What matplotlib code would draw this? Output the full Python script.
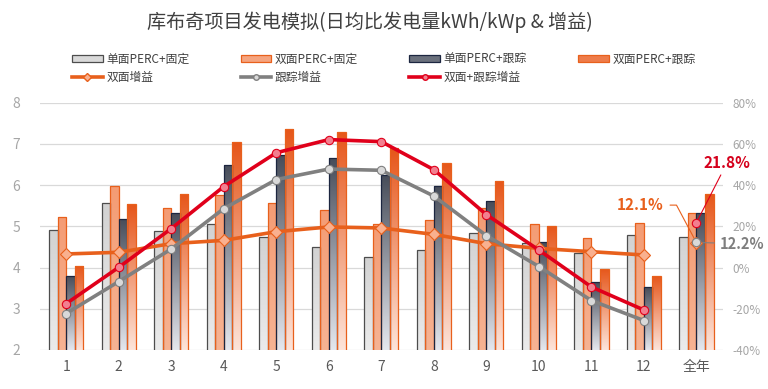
import numpy as np
import matplotlib
matplotlib.use('Agg')
import matplotlib.pyplot as plt
from matplotlib.colors import LinearSegmentedColormap
from matplotlib.patches import Patch
from matplotlib.lines import Line2D

plt.rcParams['font.family'] = ['Noto Sans CJK SC', 'DejaVu Sans']

months = ['1', '2', '3', '4', '5', '6', '7', '8', '9', '10', '11', '12', '全年']
mono_fixed = [4.90, 5.56, 4.88, 5.05, 4.74, 4.49, 4.25, 4.42, 4.85, 4.60, 4.35, 4.78, 4.74]
bi_fixed = [5.23, 5.97, 5.44, 5.75, 5.56, 5.39, 5.05, 5.15, 5.44, 5.05, 4.71, 5.07, 5.32]
mono_track = [3.80, 5.17, 5.32, 6.50, 6.72, 6.65, 6.24, 5.97, 5.61, 4.61, 3.64, 3.52, 5.32]
bi_track = [4.04, 5.54, 5.78, 7.04, 7.36, 7.29, 6.89, 6.54, 6.10, 5.01, 3.97, 3.80, 5.78]
# 增益 (%)
bi_gain = [6.6, 7.4, 11.6, 13.2, 17.4, 19.7, 19.2, 16.1, 11.6, 9.3, 7.7, 6.1, 12.1]
track_gain = [-22.3, -6.8, 9.0, 28.6, 42.7, 47.8, 47.2, 34.7, 15.5, 0.5, -16.0, -25.7, 12.2]
both_gain = [-17.5, 0.1, 18.9, 39.3, 55.7, 62.1, 61.1, 47.5, 25.7, 8.5, -9.4, -20.6, 21.8]

ORANGE = '#e8601c'
GREY = '#808080'
RED = '#e0001b'

fig = plt.figure(figsize=(7.68, 3.89), dpi=100)
ax = fig.add_axes([0.052, 0.1003, 0.889, 0.6357])
ax2 = ax.twinx()

x = np.arange(len(months))
w = 0.163
ymin, ymax = 2, 8


def grad_bars(xs, hs, top, bot, edge):
    cmap = LinearSegmentedColormap.from_list('g', [bot, top])
    grad = np.linspace(0, 1, 128).reshape(-1, 1)
    bars = ax.bar(xs, hs, w, color='none', edgecolor=edge, linewidth=0.9, zorder=3)
    for b in bars:
        x0 = b.get_x()
        h = b.get_height()
        im = ax.imshow(grad, cmap=cmap, origin='lower', aspect='auto',
                       extent=[x0, x0 + w, ymin, h], zorder=2)
        im.set_clip_path(b)
    return bars


grad_bars(x - 1.5 * w, mono_fixed, '#d2d2d2', '#ebebeb', '#4d4d4d')
grad_bars(x - 0.5 * w, bi_fixed, '#f49c74', '#f7b393', ORANGE)
grad_bars(x + 0.5 * w, mono_track, '#474d5a', '#e4e7ee', '#1c2640')
grad_bars(x + 1.5 * w, bi_track, '#e6561a', '#fde4da', ORANGE)

ax.set_xlim(-0.5, len(months) - 0.5)
ax.set_ylim(ymin, ymax)
ax.set_yticks(range(2, 9))
ax.yaxis.grid(True, color='#d9d9d9', linewidth=0.9)
ax.set_axisbelow(True)
ax.set_xticks(x)
ax.set_xticklabels(months)
ax.tick_params(axis='x', length=0, pad=7, labelsize=10, labelcolor='#595959')
ax.tick_params(axis='y', length=0, pad=14, labelsize=10, labelcolor='#a6a6a6')
for s in ax.spines.values():
    s.set_visible(False)

# 增益曲线 (月份连线, 全年单独一点)
m = x[:-1]
ax2.plot(m, bi_gain[:-1], color=ORANGE, lw=2.6, marker='D', ms=6.5,
         mfc='#f9b08f', mec=ORANGE, mew=0.8, zorder=4)
ax2.plot(m, track_gain[:-1], color=GREY, lw=2.6, marker='o', ms=6,
         mfc='#d9d9d9', mec=GREY, mew=0.8, zorder=5)
ax2.plot(m, both_gain[:-1], color=RED, lw=2.6, marker='o', ms=6,
         mfc='#f27f8f', mec=RED, mew=0.8, zorder=6)
ax2.plot(x[-1], bi_gain[-1], marker='D', ms=6.5, mfc='#f9b08f', mec=ORANGE, mew=0.8, zorder=4)
ax2.plot(x[-1], track_gain[-1], marker='o', ms=6, mfc='#d9d9d9', mec=GREY, mew=0.8, zorder=5)
ax2.plot(x[-1], both_gain[-1], marker='o', ms=6, mfc='#f27f8f', mec=RED, mew=0.8, zorder=6)

ax2.set_ylim(-40, 80)
ax2.set_yticks(range(-40, 81, 20))
ax2.set_yticklabels(['%d%%' % v for v in range(-40, 81, 20)])
ax2.tick_params(axis='y', length=0, pad=7, labelsize=8.5, labelcolor='#a6a6a6')
for s in ax2.spines.values():
    s.set_visible(False)

# 全年数据标签
ax2.annotate('%.1f%%' % both_gain[-1], xy=(x[-1], both_gain[-1]), xytext=(22, 43),
             textcoords='offset points', ha='center', va='center',
             fontsize=11, fontweight='bold', color='#d5001c',
             arrowprops=dict(arrowstyle='-', color=RED, lw=0.8, shrinkA=1, shrinkB=3))
ax2.annotate('%.1f%%' % bi_gain[-1], xy=(x[-1], bi_gain[-1]), xytext=(-24, 27),
             textcoords='offset points', ha='right', va='center',
             fontsize=11, fontweight='bold', color=ORANGE,
             arrowprops=dict(arrowstyle='-', color=ORANGE, lw=0.8, shrinkA=3, shrinkB=3,
                             connectionstyle='angle,angleA=0,angleB=-62,rad=0'))
ax2.annotate('%.1f%%' % track_gain[-1], xy=(x[-1], track_gain[-1]), xytext=(17, -1),
             textcoords='offset points', ha='left', va='center',
             fontsize=10.5, fontweight='bold', color='#7f7f7f',
             arrowprops=dict(arrowstyle='-', color=GREY, lw=0.8, shrinkA=2, shrinkB=3))

fig.text(0.482, 0.942, '库布奇项目发电模拟(日均比发电量kWh/kWp & 增益)',
         ha='center', va='center', fontsize=13.8, color='#404040')

handles = [
    Patch(facecolor='#d9d9d9', edgecolor='#4d4d4d', linewidth=0.9),
    Line2D([], [], color=ORANGE, lw=2.6, marker='D', ms=4, mfc='#f9b08f', mec=ORANGE),
    Patch(facecolor='#f5a47f', edgecolor=ORANGE, linewidth=0.9),
    Line2D([], [], color=GREY, lw=2.6, marker='o', ms=4, mfc='#d9d9d9', mec=GREY),
    Patch(facecolor='#6a707c', edgecolor='#1c2640', linewidth=0.9),
    Line2D([], [], color=RED, lw=2.6, marker='o', ms=4, mfc='#f27f8f', mec=RED),
    Patch(facecolor='#ee7c4a', edgecolor=ORANGE, linewidth=0.9),
]
labels = ['单面PERC+固定', '双面增益', '双面PERC+固定', '跟踪增益',
          '单面PERC+跟踪', '双面+跟踪增益', '双面PERC+跟踪']
fig.legend(handles, labels, ncol=4, loc='center left', bbox_to_anchor=(0.080, 0.825),
           frameon=False, fontsize=8.5, handlelength=2.6, handleheight=0.55,
           handletextpad=0.3, columnspacing=4.35, labelspacing=0.42, labelcolor='#404040')

fig.savefig('out.png', dpi=100)
